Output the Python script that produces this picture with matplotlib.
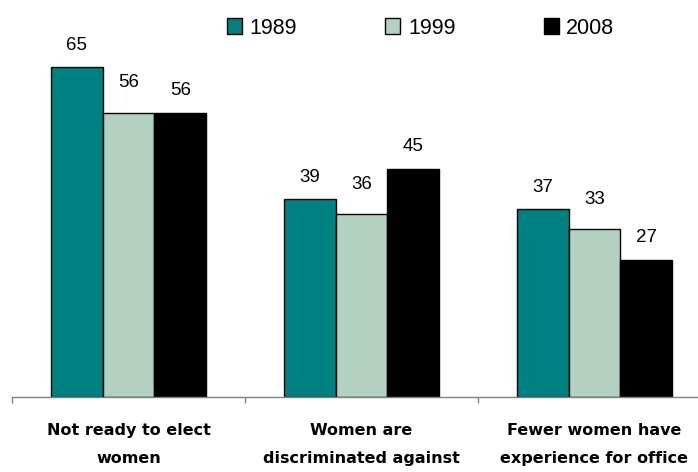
import matplotlib.pyplot as plt
import numpy as np

# data
categories = ['Not ready to elect\nwomen', 'Women are\ndiscriminated against', 'Fewer women have\nexperience for office']
years = ['1989', '1999', '2008']
v1989 = [65, 39, 37]
v1999 = [56, 36, 33]
v2008 = [56, 45, 27]

colors = ['#008080', '#B3D1C1', '#000000']
label_offsets = [22, 30, 22]  # px above bar top, per series

fig = plt.figure(figsize=(6.98, 4.72), dpi=100)
ax = fig.add_axes([12/698, 75/472, 699/698, 397/472])

x = np.arange(len(categories))
w = 0.223
for i, (vals, yr) in enumerate(zip([v1989, v1999, v2008], years)):
    pos = x + (i - 1) * w
    bars = ax.bar(pos, vals, width=w, color=colors[i], edgecolor='black', linewidth=1, label=yr)
    for b, v in zip(bars, vals):
        ax.annotate(str(v), (b.get_x() + b.get_width()/2, v), xytext=(0, label_offsets[i]),
                    textcoords='offset pixels', ha='center', va='center',
                    fontsize=13.5, family='Liberation Sans')

ax.set_xlim(-0.5, 2.5)
ax.set_ylim(0, 78.2)
ax.set_yticks([])
for s in ['left', 'right', 'top']:
    ax.spines[s].set_visible(False)
ax.spines['bottom'].set_color('#808080')
ax.spines['bottom'].set_linewidth(1)

ax.set_xticks(x)
ax.set_xticklabels(categories, fontsize=11.5, fontweight='bold', family='DejaVu Sans',
                   linespacing=2.05)
ax.tick_params(axis='x', which='major', length=0, pad=19)
ax.set_xticks(np.arange(-0.5, 3, 1), minor=True)
ax.tick_params(axis='x', which='minor', length=4.5, color='#808080', width=1)

fig.legend(loc='center left', bbox_to_anchor=(227/698, 1 - 28/472), ncol=3, frameon=False,
           prop={'family': 'Liberation Sans', 'size': 15.5}, handlelength=0.7, handleheight=0.7,
           handletextpad=0.35, columnspacing=4.1, borderpad=0, borderaxespad=0)

plt.savefig('out.png', dpi=100)
